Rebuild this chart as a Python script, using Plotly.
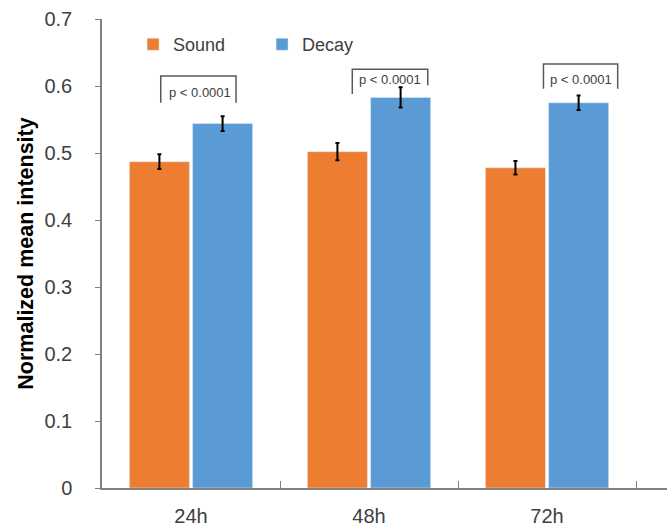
import plotly.graph_objects as go

categories = ["24h", "48h", "72h"]
sound_values = [0.487, 0.502, 0.478]
sound_errors = [0.011, 0.013, 0.010]
decay_values = [0.544, 0.583, 0.575]
decay_errors = [0.011, 0.015, 0.011]
y_ticks = [0, 0.1, 0.2, 0.3, 0.4, 0.5, 0.6, 0.7]
y_tick_labels = ["0", "0.1", "0.2", "0.3", "0.4", "0.5", "0.6", "0.7"]
p_labels = ["p < 0.0001", "p < 0.0001", "p < 0.0001"]

# bracket geometry (category index offsets, y in data units)
brackets = [
    dict(x0=-0.17, x1=0.253, top=0.615, left=0.575, right=0.575, tx=0.05, ty=0.591),
    dict(x0=0.906, x1=1.33, top=0.625, left=0.588, right=0.601, tx=1.118, ty=0.610),
    dict(x0=1.98, x1=2.397, top=0.633, left=0.596, right=0.596, tx=2.19, ty=0.610),
]

fig = go.Figure()
fig.add_trace(go.Bar(
    name="Sound", x=categories, y=sound_values, marker_color="#ED7D31",
    error_y=dict(type="data", array=sound_errors, color="black", thickness=2, width=2),
))
fig.add_trace(go.Bar(
    name="Decay", x=categories, y=decay_values, marker_color="#5B9BD5",
    error_y=dict(type="data", array=decay_errors, color="black", thickness=2, width=2),
))

line = dict(color="#595959", width=1.5)
for b, lab in zip(brackets, p_labels):
    fig.add_shape(type="path", xref="x", yref="y",
                  path=f"M {b['x0']},{b['left']} L {b['x0']},{b['top']} L {b['x1']},{b['top']} L {b['x1']},{b['right']}",
                  line=line)
    fig.add_annotation(x=b["tx"], y=b["ty"], xref="x", yref="y", text=lab, showarrow=False,
                       font=dict(size=13, color="#404040"))

fig.update_layout(
    width=667, height=528,
    margin=dict(l=102, r=0, t=19, b=40, autoexpand=False),
    paper_bgcolor="white", plot_bgcolor="white",
    font=dict(family="Liberation Sans, Arial, sans-serif", color="#404040"),
    bargap=0.29, bargroupgap=0.05,
    showlegend=True,
    legend=dict(orientation="h", x=0.055, y=0.985, xanchor="left", yanchor="top",
                font=dict(size=18, color="#404040"), itemwidth=30, entrywidth=84,
                bgcolor="rgba(0,0,0,0)"),
    xaxis=dict(range=[-0.5, 2.674], showline=True, linecolor="#7f7f7f", linewidth=1.5,
               ticks="inside", ticklen=7, tickcolor="#7f7f7f", tickson="boundaries",
               ticklabelstandoff=9, automargin=False,
               tickfont=dict(size=20, color="#404040"), showgrid=False, zeroline=False),
    yaxis=dict(range=[0, 0.7], tickvals=y_ticks, ticktext=y_tick_labels,
               showline=True, linecolor="#7f7f7f", linewidth=1.5,
               ticks="outside", ticklen=5, tickcolor="#7f7f7f",
               ticklabelstandoff=19, automargin=False,
               tickfont=dict(size=20, color="#404040"), showgrid=False, zeroline=False,
               title=dict(text="<b>Normalized mean intensity</b>", font=dict(size=21.5, color="black"), standoff=5)),
)

fig.write_html("out.html", config={"displayModeBar": False},
               post_script="document.body.style.margin='0';")
